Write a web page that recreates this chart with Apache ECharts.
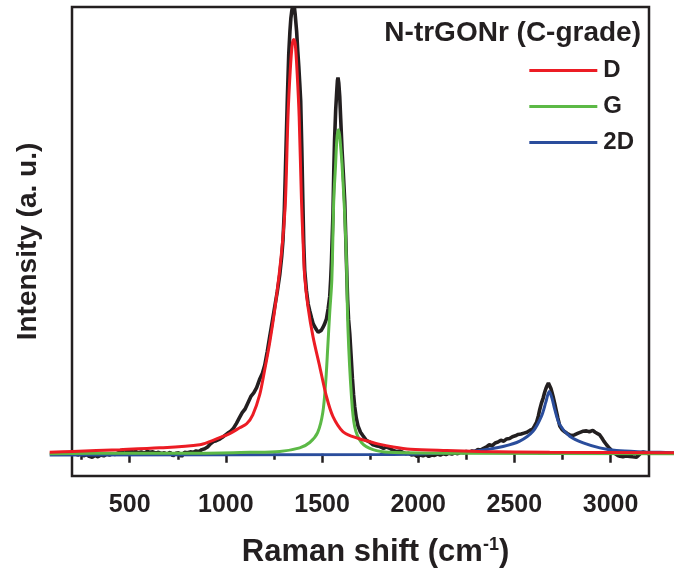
<!DOCTYPE html>
<html>
<head>
<meta charset="utf-8">
<script src="https://cdn.jsdelivr.net/npm/echarts@6/dist/echarts.min.js"></script>
<style>
  html, body { margin: 0; padding: 0; background: #fff; }
  #chart { width: 675px; height: 574px; }
</style>
</head>
<body>
<div id="chart"></div>
<script>
// Raman spectrum of N-trGONr (C-grade)
// [Raman shift in cm-1, intensity in a.u.]
const measured = [
  [200,-2],[215,1],[230,-3],[245,0],[260,-5],[275,-2],[290,-6],[305,-8],[320,-4],[335,-7],
  [350,-3],[365,-5],[380,-1],[395,-3],[410,0],[425,-2],[440,2],[455,5],[470,9],[485,6],
  [500,8],[515,3],[530,5],[545,2],[560,4],[575,1],[590,5],[605,3],[620,4],[635,1],
  [650,3],[665,0],[680,2],[695,-1],[710,3],[725,-5],[740,1],[755,2],[770,-6],[785,3],
  [800,2],[815,4],[830,3],[845,6],[860,5],[875,9],[890,11],[905,15],[920,22],[935,27],
  [950,29],[965,32],[980,36],[995,41],[1010,46],[1025,50],[1040,57],[1055,68],[1070,80],[1085,92],
  [1100,100],[1115,114],[1130,128],[1145,136],[1160,148],[1175,166],[1190,180],[1202,198],[1215,228],[1228,262],
  [1241,295],[1254,329],[1267,362],[1280,400],[1290,440],[1297,478],[1304,546],[1310,640],[1315,720],[1320,800],
  [1327,895],[1333,945],[1338,975],[1343,992],[1347,1000],[1350,984],[1353,988],[1356,1000],[1360,985],[1364,965],
  [1368,945],[1374,900],[1379,868],[1384,830],[1389,790],[1395,680],[1400,570],[1405,470],[1410,410],[1419,365],
  [1428,335],[1436,320],[1445,305],[1453,292],[1462,284],[1472,277],[1480,272],[1488,270],[1496,276],[1504,282],
  [1513,290],[1523,302],[1532,325],[1540,352],[1545,390],[1549,430],[1553,485],[1557,540],[1561,630],[1565,700],
  [1571,770],[1577,815],[1580,835],[1583,842],[1587,830],[1592,800],[1597,750],[1604,680],[1611,625],[1618,565],
  [1623,490],[1627,428],[1633,345],[1638,300],[1644,270],[1651,220],[1658,168],[1664,132],[1670,105],[1678,80],
  [1687,62],[1700,48],[1713,40],[1730,30],[1748,26],[1765,20],[1780,18],[1800,16],[1820,12],[1835,15],
  [1852,12],[1870,7],[1887,5],[1905,6],[1920,3],[1935,0],[1950,1],[1965,-3],[1980,-2],[1995,-6],
  [2010,-3],[2025,-5],[2040,-2],[2055,-6],[2070,-3],[2085,-4],[2100,-1],[2115,-3],[2130,0],[2145,-2],
  [2160,1],[2175,-1],[2190,2],[2205,0],[2220,3],[2235,2],[2250,5],[2265,3],[2280,6],[2295,5],
  [2310,9],[2325,8],[2340,12],[2355,15],[2370,20],[2385,18],[2400,24],[2415,26],[2430,30],[2445,28],
  [2460,33],[2475,34],[2490,38],[2505,40],[2520,43],[2535,44],[2550,46],[2565,48],[2580,52],[2595,55],
  [2605,62],[2615,70],[2625,85],[2632,99],[2640,112],[2650,125],[2658,138],[2664,146],[2670,152],[2677,158],
  [2684,155],[2690,146],[2695,138],[2703,125],[2710,112],[2718,96],[2726,80],[2736,62],[2748,54],[2762,49],
  [2775,45],[2788,42],[2800,40],[2812,42],[2820,44],[2832,46],[2840,48],[2855,50],[2865,47],[2875,51],
  [2890,49],[2900,53],[2908,52],[2920,48],[2929,46],[2944,42],[2955,35],[2965,28],[2979,20],[2995,12],
  [3012,4],[3025,0],[3038,-4],[3050,-6],[3064,-7],[3080,-5],[3090,-8],[3100,-6],[3115,-7],[3125,-5],
  [3135,-8],[3145,-4],[3152,-1],[3160,3],[3168,4],[3175,1],[3185,2],[3199,0]
];

// fitted D band
const fitD = [
  [84,3],[204,5],[449,9],[656,13],[864,20],[916,27],[968,36],[1020,45],[1072,58],[1108,67],
  [1140,87],[1176,132],[1202,188],[1228,249],[1254,322],[1280,412],[1297,486],[1310,569],[1323,755],[1335,860],
  [1345,916],[1353,927],[1361,916],[1371,849],[1381,755],[1393,569],[1402,468],[1410,396],[1427,329],[1453,262],
  [1488,195],[1523,128],[1557,83],[1609,49],[1660,38],[1720,30],[1790,22],[1870,15],[1960,10],[2149,7],
  [2320,5],[2684,3],[3330,2]
];

// fitted G band
const fitG = [
  [84,0],[500,1],[864,1],[1124,3],[1280,5],[1384,13],[1436,25],[1477,47],[1504,92],[1520,166],
  [1530,240],[1540,316],[1551,390],[1561,569],[1570,643],[1577,703],[1584,725],[1591,714],[1598,681],[1604,647],
  [1618,535],[1627,428],[1635,278],[1653,128],[1670,60],[1705,25],[1765,9],[1852,3],[2200,1],[3330,0]
];

// fitted 2D band
const fit2D = [
  [84,-3],[1800,-2],[2008,-1],[2216,3],[2320,7],[2441,16],[2528,28],[2597,50],[2641,84],[2664,116],
  [2681,139],[2695,125],[2710,99],[2736,65],[2788,39],[2858,24],[2944,13],[3031,7],[3170,4],[3256,3],
  [3330,2]
];

const frameRange = [200, 3200];   // x extent of the boxed axes
const dataRange = [80, 3330];     // fitted curves run past the box on both sides
const yRange = [-50, 1000];
const majorTicks = [500, 3000];
const minorTicks = [250, 2750];
const legendNames = ['D', 'G', '2D'];
const sampleName = 'N-trGONr (C-grade)';

const ink = '#231f20';
const font = "'Liberation Sans', Arial, sans-serif";

// frame from x=72 to x=649 covers 200..3200
const gl = 72, gr = 26, gt = 7, gb = 98;
const pxPer = (675 - gl - gr) / (frameRange[1] - frameRange[0]);
const gridFor = (lo, hi) => ({
  left: gl + (lo - frameRange[0]) * pxPer,
  right: gr + (frameRange[1] - hi) * pxPer,
  top: gt, bottom: gb
});

const chart = echarts.init(document.getElementById('chart'));

const hiddenY = (gi) => ({ type: 'value', gridIndex: gi, min: yRange[0], max: yRange[1], show: false });
const noAxis = { axisLine: { show: false }, axisTick: { show: false }, axisLabel: { show: false }, splitLine: { show: false } };

chart.setOption({
  animation: false,
  textStyle: { fontFamily: font },
  title: {
    text: sampleName,
    right: 34, top: 19,
    padding: 0,
    textStyle: { fontSize: 28, fontWeight: 'bold', color: ink, fontFamily: font }
  },
  legend: {
    data: legendNames,
    orient: 'vertical',
    right: 41, top: 58,
    padding: 0,
    align: 'left',
    icon: 'rect',
    itemWidth: 68, itemHeight: 3,
    itemGap: 11,
    textStyle: { fontSize: 24, fontWeight: 'bold', color: ink, fontFamily: font, lineHeight: 25, padding: [0, 0, 0, 1] }
  },
  grid: [
    // data grid, wider than the frame
    gridFor(dataRange[0], dataRange[1]),
    // frame
    { left: gl, right: gr, top: gt, bottom: gb, show: true, borderColor: ink, borderWidth: 2.5, backgroundColor: 'transparent' },
    gridFor(majorTicks[0], majorTicks[1]),
    gridFor(minorTicks[0], minorTicks[1])
  ],
  xAxis: [
    { type: 'value', gridIndex: 0, min: dataRange[0], max: dataRange[1], show: false },
    Object.assign({
      type: 'value', gridIndex: 1, min: frameRange[0], max: frameRange[1],
      name: 'Raman shift (cm{sup|-1})',
      nameLocation: 'middle', nameGap: 60,
      nameTextStyle: {
        fontSize: 31, fontWeight: 'bold', color: ink, fontFamily: font, padding: [0, 0, 0, 30],
        rich: { sup: { fontSize: 18, fontWeight: 'bold', color: ink, fontFamily: font, verticalAlign: 'top', padding: [0, 0, 14, 0] } }
      }
    }, noAxis),
    {
      type: 'value', gridIndex: 2, min: majorTicks[0], max: majorTicks[1], interval: 500,
      axisLine: { show: false },
      axisTick: { show: true, inside: false, length: 9, lineStyle: { color: ink, width: 2.5 } },
      axisLabel: { show: true, margin: 17, fontSize: 25, fontWeight: 'bold', color: ink, fontFamily: font, formatter: (v) => String(v) },
      splitLine: { show: false }
    },
    {
      type: 'value', gridIndex: 3, min: minorTicks[0], max: minorTicks[1], interval: 500,
      axisLine: { show: false },
      axisTick: { show: true, inside: false, length: 6, lineStyle: { color: ink, width: 2.5 } },
      axisLabel: { show: false },
      splitLine: { show: false }
    }
  ],
  yAxis: [
    hiddenY(0),
    Object.assign({
      type: 'value', gridIndex: 1, min: yRange[0], max: yRange[1],
      name: 'Intensity (a. u.)',
      nameLocation: 'middle', nameGap: 30,
      nameTextStyle: { fontSize: 28, fontWeight: 'bold', color: ink, fontFamily: font }
    }, noAxis),
    hiddenY(2),
    hiddenY(3)
  ],
  series: [
    {
      name: 'measured', type: 'line', data: measured, showSymbol: false, clip: false,
      lineStyle: { color: ink, width: 3.6 }, itemStyle: { color: ink }, z: 2
    },
    {
      name: '2D', type: 'line', data: fit2D, showSymbol: false, clip: false, smooth: 0.3,
      lineStyle: { color: '#2a4d9c', width: 3 }, itemStyle: { color: '#2a4d9c' }, z: 3
    },
    {
      name: 'G', type: 'line', data: fitG, showSymbol: false, clip: false, smooth: 0.3,
      lineStyle: { color: '#5cb946', width: 3 }, itemStyle: { color: '#5cb946' }, z: 4
    },
    {
      name: 'D', type: 'line', data: fitD, showSymbol: false, clip: false, smooth: 0.3,
      lineStyle: { color: '#ec1c24', width: 3 }, itemStyle: { color: '#ec1c24' }, z: 5
    }
  ]
});
</script>
</body>
</html>
